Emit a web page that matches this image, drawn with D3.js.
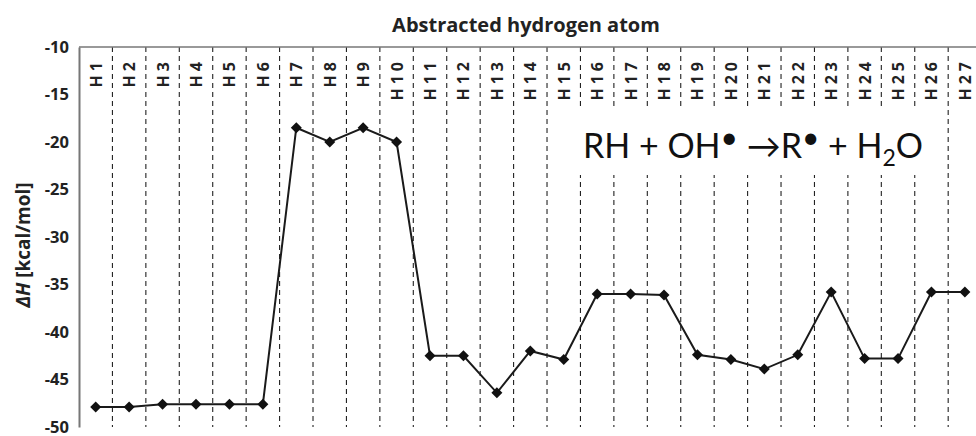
<!DOCTYPE html>
<html><head><meta charset="utf-8">
<script src="https://cdn.jsdelivr.net/npm/d3@7"></script>
<style>body{margin:0;background:#fff}svg{display:block}</style>
</head><body>
<svg id="c" width="976" height="436"></svg>
<script>
const categories = ["H1","H2","H3","H4","H5","H6","H7","H8","H9","H10","H11","H12","H13","H14","H15","H16","H17","H18","H19","H20","H21","H22","H23","H24","H25","H26","H27"];
const deltaH = [-47.9,-47.9,-47.6,-47.6,-47.6,-47.6,-18.5,-20.0,-18.5,-20.0,-42.5,-42.5,-46.4,-42.0,-42.9,-36.0,-36.0,-36.1,-42.4,-42.9,-43.9,-42.4,-35.8,-42.8,-42.8,-35.8,-35.8];
const yTicks = [-10,-15,-20,-25,-30,-35,-40,-45,-50];
const title = "Abstracted hydrogen atom";

(function(){
const svg = d3.select("#c");
const bfont = "'Open Sans', Lato, sans-serif";
const font = "Lato, 'Open Sans', sans-serif";
const mLeft = 79, mTop = 47, mBottom = 427;
const band = 33.43;
const x = d3.scaleBand().domain(categories).range([mLeft, mLeft + band*categories.length]).padding(0);
const y = d3.scaleLinear().domain([-50,-10]).range([mBottom, mTop]);

// gridlines at band boundaries
const g = svg.append("g");
categories.forEach((c,i)=>{
  const xx = x(c) + band;
  g.append("line").attr("x1",xx).attr("x2",xx).attr("y1",mTop).attr("y2",mBottom)
   .attr("stroke","#222").attr("stroke-width",1.1).attr("stroke-dasharray","5,4");
});

// white box behind the equation
svg.append("rect").attr("x",566).attr("y",110).attr("width",372).attr("height",65).attr("fill","#fff");

// top axis line
svg.append("line").attr("x1",mLeft).attr("x2",976).attr("y1",mTop).attr("y2",mTop)
  .attr("stroke","#777").attr("stroke-width",1.5);
// left axis
const yAxis = d3.axisLeft(y).tickValues(yTicks).tickSize(0).tickPadding(10).tickFormat(d=>String(d));
const ya = svg.append("g").attr("transform",`translate(${mLeft},0)`).call(yAxis);
ya.select(".domain").attr("stroke","#777").attr("stroke-width",2);
ya.selectAll("text").attr("font-family",bfont).attr("font-weight","bold").attr("font-size",16.5).attr("fill","#222");

// category labels
svg.append("g").selectAll("text").data(categories).join("text")
  .attr("transform",d=>`translate(${x(d)+band/2+6},58) rotate(-90)`)
  .attr("text-anchor","end")
  .attr("font-family",bfont).attr("font-weight","bold").attr("font-size",16)
  .attr("letter-spacing",4).attr("fill","#222")
  .text(d=>d);

// title
svg.append("text").attr("x",526).attr("y",32).attr("text-anchor","middle")
  .attr("font-family",bfont).attr("font-weight","bold").attr("font-size",20).attr("fill","#222")
  .text(title);

// y axis title
const yt = svg.append("text").attr("transform","translate(30,245) rotate(-90)")
  .attr("text-anchor","middle").attr("font-family",bfont).attr("font-weight","bold")
  .attr("font-size",19).attr("fill","#222");
yt.append("tspan").attr("font-style","italic").text("ΔH");
yt.append("tspan").text(" [kcal/mol]");

// line
const pts = categories.map((c,i)=>[x(c)+band/2, y(deltaH[i])]);
svg.append("path").attr("d",d3.line()(pts)).attr("fill","none").attr("stroke","#1a1a1a").attr("stroke-width",2);
svg.append("g").selectAll("path").data(pts).join("path")
  .attr("d","M0,-5.5L5.5,0L0,5.5L-5.5,0Z")
  .attr("transform",d=>`translate(${d[0]},${d[1]})`).attr("fill","#111");

// equation
const eq = svg.append("text").attr("x",583).attr("y",158).attr("font-family",font)
  .attr("font-size",34).attr("fill","#111");
eq.append("tspan").text("RH + OH");
eq.append("tspan").attr("font-size",30).attr("dy",-10).text("•");
eq.append("tspan").attr("dy",10).text(" →R");
eq.append("tspan").attr("font-size",30).attr("dy",-10).text("•");
eq.append("tspan").attr("dy",10).text(" + H");
eq.append("tspan").attr("font-size",23).attr("dy",8).text("2");
eq.append("tspan").attr("dy",-8).text("O");
})();
</script>
</body></html>
